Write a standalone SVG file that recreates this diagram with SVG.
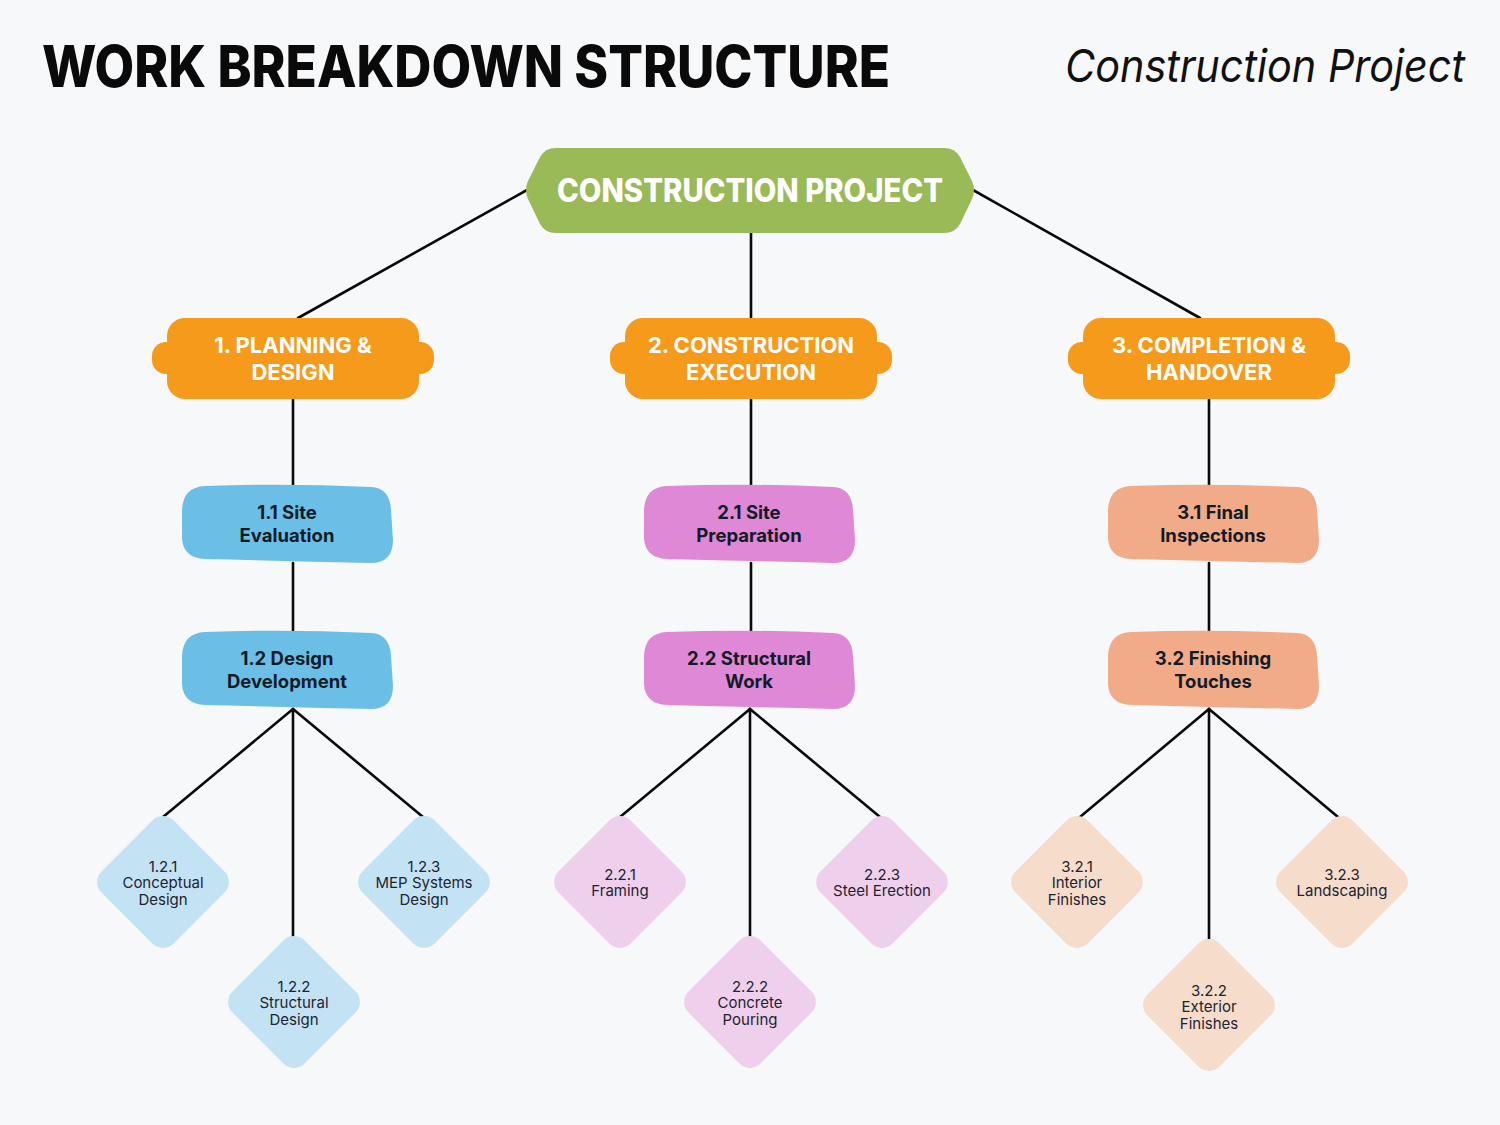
<svg xmlns="http://www.w3.org/2000/svg" xmlns:xlink="http://www.w3.org/1999/xlink" width="1500" height="1125" viewBox="0 0 1500 1125">
<style>
.bg{fill:#f7f8fa}
.title{font-family:Inter,"Liberation Sans",sans-serif;font-weight:800;font-size:58px;fill:#0a0a0a}
.sub{font-family:Inter,"Liberation Sans",sans-serif;font-style:italic;font-size:45px;fill:#111}
.link{stroke:#0a0a0a;stroke-width:2.6;fill:none;stroke-linecap:round}
.root{fill:#9aba58}
.rootT{font-family:Inter,"Liberation Sans",sans-serif;font-weight:800;font-size:32px;fill:#fff;text-anchor:middle}
.l1{fill:#f59a1b}
.l1T{font-family:Inter,"Liberation Sans",sans-serif;font-weight:700;font-size:22px;fill:#fff;text-anchor:middle}
.blue{fill:#6bbfe6}
.pink{fill:#df88d6}
.peach{fill:#f2ab88}
.l2T{font-family:Inter,"Liberation Sans",sans-serif;font-weight:700;font-size:18.5px;fill:#111c26;text-anchor:middle}
.dblue{fill:#c3e2f3}
.dpink{fill:#efd0ec}
.dpeach{fill:#f5dccb}
.dT{font-family:Inter,"Liberation Sans",sans-serif;font-size:15px;fill:#1c2430;text-anchor:middle}
</style>
<defs>
<g id="tabnode">
<rect x="-141" y="-16" width="32" height="32" rx="14"/>
<rect x="109" y="-16" width="32" height="32" rx="14"/>
<rect x="-126" y="-40" width="252" height="81" rx="18"/>
</g>
<path id="blob" d="M -82,-38 Q 0,-41 84,-37 Q 103,-36 104,-14 L 106,16 Q 106,39 84,39 Q 0,37 -82,35 Q -104,34 -105,14 L -105,-14 Q -104,-37 -82,-38 Z"/>
<rect id="dia" x="-51" y="-51" width="102" height="102" rx="15" transform="rotate(45)"/>
</defs>
<rect class="bg" x="0" y="0" width="1500" height="1125"/>
<text class="title" x="42" y="87" textLength="848" lengthAdjust="spacingAndGlyphs">WORK BREAKDOWN STRUCTURE</text>
<text class="sub" x="1465" y="82" text-anchor="end" textLength="400" lengthAdjust="spacingAndGlyphs">Construction Project</text>

<g id="connectors">
<line class="link" x1="527" y1="190" x2="298" y2="318"/>
<line class="link" x1="751" y1="233" x2="751" y2="318"/>
<line class="link" x1="973" y1="190" x2="1200" y2="318"/>
<line class="link" x1="293" y1="399" x2="293" y2="485"/>
<line class="link" x1="293" y1="563" x2="293" y2="631"/>
<line class="link" x1="293" y1="709" x2="163" y2="817"/>
<line class="link" x1="293" y1="709" x2="293" y2="937"/>
<line class="link" x1="293" y1="709" x2="423" y2="817"/>
<line class="link" x1="751" y1="399" x2="751" y2="485"/>
<line class="link" x1="751" y1="563" x2="751" y2="631"/>
<line class="link" x1="750" y1="709" x2="620" y2="817"/>
<line class="link" x1="750" y1="709" x2="750" y2="937"/>
<line class="link" x1="750" y1="709" x2="880" y2="817"/>
<line class="link" x1="1209" y1="399" x2="1209" y2="485"/>
<line class="link" x1="1209" y1="563" x2="1209" y2="631"/>
<line class="link" x1="1209" y1="709" x2="1080" y2="817"/>
<line class="link" x1="1209" y1="709" x2="1209" y2="940"/>
<line class="link" x1="1209" y1="709" x2="1338" y2="817"/>
</g>

<g id="root">
<path class="root" d="M 556,148 L 944,148 Q 955,148 960,157 L 972,181 Q 976,190 972,199 L 960,224 Q 955,233 944,233 L 556,233 Q 545,233 540,224 L 528,199 Q 524,190 528,181 L 540,157 Q 545,148 556,148 Z"/>
<text class="rootT" x="750" y="202" textLength="386" lengthAdjust="spacingAndGlyphs">CONSTRUCTION PROJECT</text>
</g>

<g id="n1">
<use xlink:href="#tabnode" href="#tabnode" class="l1" transform="translate(293,358)"/>
<text class="l1T" x="293" y="353">1. PLANNING &amp;</text>
<text class="l1T" x="293" y="380">DESIGN</text>
</g>
<g id="n2">
<use xlink:href="#tabnode" href="#tabnode" class="l1" transform="translate(751,358)"/>
<text class="l1T" x="751" y="353">2. CONSTRUCTION</text>
<text class="l1T" x="751" y="380">EXECUTION</text>
</g>
<g id="n3">
<use xlink:href="#tabnode" href="#tabnode" class="l1" transform="translate(1209,358)"/>
<text class="l1T" x="1209" y="353">3. COMPLETION &amp;</text>
<text class="l1T" x="1209" y="380">HANDOVER</text>
</g>

<g id="n1_1">
<use xlink:href="#blob" href="#blob" class="blue" transform="translate(287,524)"/>
<text class="l2T" x="287" y="519">1.1 Site</text>
<text class="l2T" x="287" y="542">Evaluation</text>
</g>
<g id="n1_2">
<use xlink:href="#blob" href="#blob" class="blue" transform="translate(287,670)"/>
<text class="l2T" x="287" y="665">1.2 Design</text>
<text class="l2T" x="287" y="688">Development</text>
</g>
<g id="n2_1">
<use xlink:href="#blob" href="#blob" class="pink" transform="translate(749,524)"/>
<text class="l2T" x="749" y="519">2.1 Site</text>
<text class="l2T" x="749" y="542">Preparation</text>
</g>
<g id="n2_2">
<use xlink:href="#blob" href="#blob" class="pink" transform="translate(749,670)"/>
<text class="l2T" x="749" y="665">2.2 Structural</text>
<text class="l2T" x="749" y="688">Work</text>
</g>
<g id="n3_1">
<use xlink:href="#blob" href="#blob" class="peach" transform="translate(1213,524)"/>
<text class="l2T" x="1213" y="519">3.1 Final</text>
<text class="l2T" x="1213" y="542">Inspections</text>
</g>
<g id="n3_2">
<use xlink:href="#blob" href="#blob" class="peach" transform="translate(1213,670)"/>
<text class="l2T" x="1213" y="665">3.2 Finishing</text>
<text class="l2T" x="1213" y="688">Touches</text>
</g>

<g id="n1_2_1">
<use xlink:href="#dia" href="#dia" class="dblue" transform="translate(163,882)"/>
<text class="dT" x="163" y="872">1.2.1</text>
<text class="dT" x="163" y="888">Conceptual</text>
<text class="dT" x="163" y="905">Design</text>
</g>
<g id="n1_2_2">
<use xlink:href="#dia" href="#dia" class="dblue" transform="translate(294,1002)"/>
<text class="dT" x="294" y="992">1.2.2</text>
<text class="dT" x="294" y="1008">Structural</text>
<text class="dT" x="294" y="1025">Design</text>
</g>
<g id="n1_2_3">
<use xlink:href="#dia" href="#dia" class="dblue" transform="translate(424,882)"/>
<text class="dT" x="424" y="872">1.2.3</text>
<text class="dT" x="424" y="888">MEP Systems</text>
<text class="dT" x="424" y="905">Design</text>
</g>
<g id="n2_2_1">
<use xlink:href="#dia" href="#dia" class="dpink" transform="translate(620,882)"/>
<text class="dT" x="620" y="880">2.2.1</text>
<text class="dT" x="620" y="896">Framing</text>
</g>
<g id="n2_2_2">
<use xlink:href="#dia" href="#dia" class="dpink" transform="translate(750,1002)"/>
<text class="dT" x="750" y="992">2.2.2</text>
<text class="dT" x="750" y="1008">Concrete</text>
<text class="dT" x="750" y="1025">Pouring</text>
</g>
<g id="n2_2_3">
<use xlink:href="#dia" href="#dia" class="dpink" transform="translate(882,882)"/>
<text class="dT" x="882" y="880">2.2.3</text>
<text class="dT" x="882" y="896">Steel Erection</text>
</g>
<g id="n3_2_1">
<use xlink:href="#dia" href="#dia" class="dpeach" transform="translate(1077,882)"/>
<text class="dT" x="1077" y="872">3.2.1</text>
<text class="dT" x="1077" y="888">Interior</text>
<text class="dT" x="1077" y="905">Finishes</text>
</g>
<g id="n3_2_2">
<use xlink:href="#dia" href="#dia" class="dpeach" transform="translate(1209,1005)"/>
<text class="dT" x="1209" y="996">3.2.2</text>
<text class="dT" x="1209" y="1012">Exterior</text>
<text class="dT" x="1209" y="1029">Finishes</text>
</g>
<g id="n3_2_3">
<use xlink:href="#dia" href="#dia" class="dpeach" transform="translate(1342,882)"/>
<text class="dT" x="1342" y="880">3.2.3</text>
<text class="dT" x="1342" y="896">Landscaping</text>
</g>
</svg>
